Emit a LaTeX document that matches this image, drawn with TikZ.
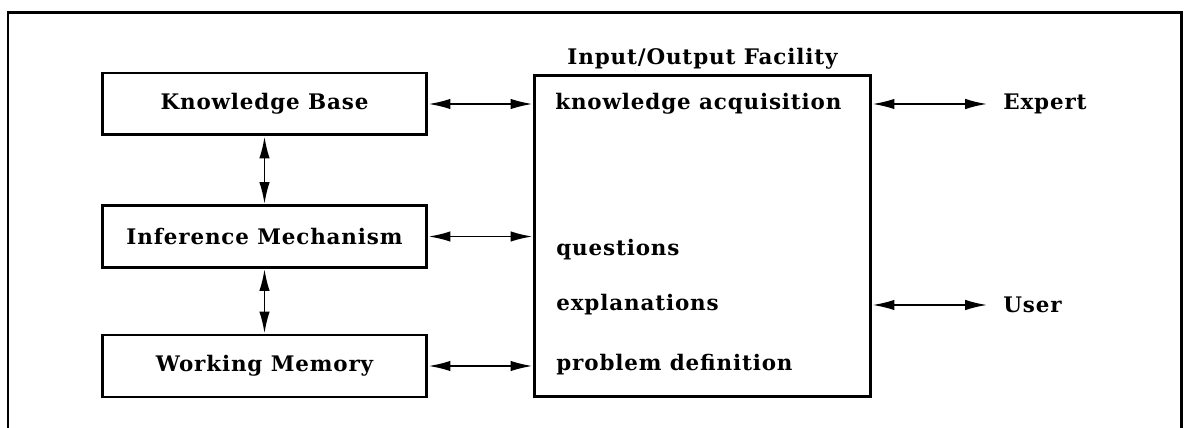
\documentclass[tikz,border=0pt]{standalone}
\usepackage{fontspec}
\setmainfont{DejaVu Serif}[LetterSpace=4]
\usetikzlibrary{arrows.meta}
\tikzstyle{arrow}=[draw=black, line width=1.1pt, {Latex[length=4.4mm,width=2.1mm]}-{Latex[length=4.4mm,width=2.1mm]}]
\tikzstyle{block}=[draw=black, line width=1.7pt, minimum width=6.5cm, minimum height=1.24cm]
\tikzstyle{label}=[inner sep=0pt]

\begin{document}
\begin{tikzpicture}[x=0.02cm, y=-0.02cm, every node/.style={font=\bfseries\fontsize{12.2}{14}\selectfont}]
	\useasboundingbox (0,0) rectangle (1185,428);
	\draw[line width=1.7pt] (8,428) -- (8,13) -- (1181,13) -- (1181,428);
	\begin{scope}
		\node (kb) at (264.5,104)[block] {Knowledge Base};
		\node (im) at (264.5,236.5)[block] {Inference Mechanism};
		\node (wm) at (264.5,366)[block] {Working Memory};
		\node (io) at (702.5,236)[block, minimum width=6.74cm, minimum height=6.44cm] {};
		\node (title) at (io.north)[label, anchor=south, yshift=2.5pt] {Input/Output Facility};
		\node (ka) at (555,104)[label, anchor=west] {knowledge acquisition};
		\node (q) at (556,250)[label, anchor=west] {questions};
		\node (ex) at (556,305)[label, anchor=west] {explanations};
		\node (pd) at (556,365)[label, anchor=west] {problem definition};
		\node (expert) at (1003,104)[label, anchor=west] {Expert};
		\node (user) at (1003,305)[label, anchor=west] {User};
	\end{scope}
	\begin{scope}
		\path (kb) edge[arrow] (im);
		\path (im) edge[arrow] (wm);

		\path (kb.east) edge[arrow] (kb.east -| io.west);
		\path (im.east) edge[arrow] (im.east -| io.west);
		\path (wm.east) edge[arrow] (wm.east -| io.west);

		\path (expert.west -| io.east) edge[arrow, shorten >=9pt] (expert.west);
		\path (user.west -| io.east) edge[arrow, shorten >=9pt] (user.west);
	\end{scope}
\end{tikzpicture}
\end{document}
